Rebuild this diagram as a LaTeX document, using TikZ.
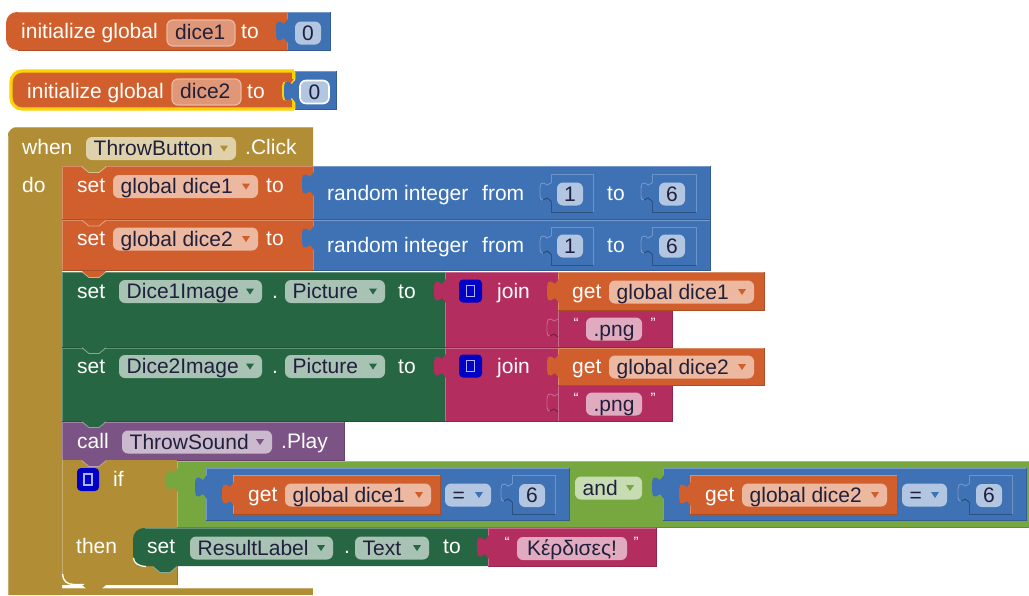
\documentclass[tikz,border=0pt]{standalone}
\usepackage{fontspec}
\setmainfont{Liberation Sans}
\definecolor{cor}{HTML}{D05F2D}
\definecolor{cbl}{HTML}{3F71B5}
\definecolor{col}{HTML}{B18E35}
\definecolor{cgr}{HTML}{266643}
\definecolor{cma}{HTML}{B32D5E}
\definecolor{cpu}{HTML}{7C5385}
\definecolor{clg}{HTML}{76A83F}
\definecolor{for}{HTML}{ECB8A0}
\definecolor{fbl}{HTML}{B2C6E1}
\definecolor{fol}{HTML}{DFD2AA}
\definecolor{fgr}{HTML}{A8C2B4}
\definecolor{fma}{HTML}{E1ABBF}
\definecolor{fpu}{HTML}{CBBACE}
\definecolor{flg}{HTML}{C8DCB3}
\definecolor{ftx}{HTML}{20203C}
\newcount\nc
\tikzset{x=1pt,y=-1pt,
  lab/.style={anchor=base west,inner sep=0pt,text=white,font=\fontsize{21}{24}\selectfont},
  fldt/.style={anchor=base west,inner sep=0pt,text=ftx,font=\fontsize{21}{24}\selectfont},
  qt/.style={anchor=center,inner sep=0pt,text=white,font=\fontsize{15}{15}\selectfont}}
% label: x, baseline, text
\newcommand{\lbl}[3]{\global\advance\nc by 1 \node[lab] (n\the\nc) at (#1,#2) {#3};}
% block: colour x1 y1 x2 y2
\newcommand{\blk}[5]{%
  \fill[#1] (#2,#3) rectangle (#4,#5);
  \draw[#1!82!black,line width=1pt] (#2,#5) -- (#4,#5) -- (#4,#3);
  \draw[#1!72!white,line width=1pt] (#2,#5) -- (#2,#3) -- (#4,#3);}
% field: x1 x2 yc fill arrowcolour text
\newcommand{\fd}[6]{%
  \fill[#4,rounded corners=6pt] (#1,#3-11.5) rectangle (#2,#3+11.5);
  \global\advance\nc by 1
  \node[fldt] (n\the\nc) at (#1+7.5,#3+7) {#6};
  \fill[#5] (#2-16,#3-3) -- (#2-8,#3-3) -- (#2-12,#3+3) -- cycle;}
% field without arrow, centred text
\newcommand{\fc}[5]{%
  \fill[#4,rounded corners=6pt] (#1,#3-11.5) rectangle (#2,#3+11.5);
  \global\advance\nc by 1
  \node[fldt,anchor=base] (n\the\nc) at ({(#1+#2)/2},#3+7) {#5};}
% tab: colour x y
\newcommand{\tabb}[3]{%
  \fill[#1] (#2+1,#3-12) -- (#2-3,#3-7) -- (#2-7,#3-9.5) .. controls (#2-10,#3-9.5) .. (#2-11,#3-4) -- (#2-11,#3+4)
     .. controls (#2-10,#3+9.5) .. (#2-7,#3+9.5) -- (#2-3,#3+7) -- (#2+1,#3+12) -- cycle;}
% empty socket curve: colour x yc
\newcommand{\cshp}[3]{%
  \draw[#1!72!white,line width=.9pt] (#2,#3-9) -- (#2-4,#3-7) -- (#2-7,#3-9) .. controls (#2-10,#3-9) .. (#2-11,#3-4) -- (#2-11,#3+4)
     .. controls (#2-10,#3+8) .. (#2-8,#3+8);
  \draw[#1!65!black,line width=.9pt] (#2-8,#3+8) -- (#2-4,#3+6) -- (#2,#3+9);}
% socket outline: colour x1 y1 x2 y2
\newcommand{\sock}[5]{%
  \draw[#1!76!white,line width=.9pt] (#2,#3+9) -- (#2,#3) -- (#4,#3) -- (#4,#5);
  \draw[#1!72!black,line width=.9pt] (#4,#5) -- (#2,#5) -- (#2,#3+27);
  \cshp{#1}{#2}{#3+18}}
% statement notch: colour x y
\newcommand{\notchh}[3]{%
  \fill[#1] (#2-12,#3) -- (#2+12,#3) -- (#2+5,#3+6) -- (#2-5,#3+6) -- cycle;
  \draw[white!45!#1,line width=.8pt] (#2-12,#3+.8) -- (#2-5,#3+6.5) -- (#2+5,#3+6.5) -- (#2+12,#3+.8);}
% mutator icon: x1 x2 yc
\newcommand{\mutr}[3]{%
  \fill[blue!78!black,rounded corners=4pt] (#1,#3-11.5) rectangle (#2,#3+11.5);
  \draw[white!70!blue,line width=1.1pt] ({(#1+#2)/2-4},#3-5.5) rectangle ({(#1+#2)/2+4},#3+5.5);}
\begin{document}
\begin{tikzpicture}
\useasboundingbox (0,0) rectangle (1029,595);
\fill[white] (0,0) rectangle (1029,595);

% --- initialize dice1
\fill[cor,rounded corners=11pt] (287,12) -- (6,12) -- (6,50) -- (20,50) [sharp corners] -- (287,50) -- cycle;
\draw[cor!82!black,line width=1pt] (18,50) -- (287,50);
\draw[cor!72!white,line width=1pt] (18,12.5) -- (287,12.5);
\blk{cbl}{287}{12}{330}{50}
\tabb{cbl}{287}{31}
\lbl{21}{38.5}{initialize global}
\fill[cor!65!white,rounded corners=6pt] (167,20) rectangle (235,46);
\draw[cor!45!white,line width=1.2pt,rounded corners=6pt] (167,20) rectangle (235,46);
\global\advance\nc by 1 \node[fldt] (n\the\nc) at (175,39) {dice1};
\lbl{241}{38.5}{to}
\fc{295}{321}{33}{fbl}{0}

% --- initialize dice2
\fill[cor,rounded corners=11pt] (294,71) -- (11,71) -- (11,109) -- (25,109) [sharp corners] -- (294,109) -- cycle;
\draw[yellow!70!orange,line width=3.2pt,rounded corners=11pt] (294,71) -- (11,71) -- (11,109) -- (294,109);
\draw[yellow!70!orange,line width=3.2pt] (294,71) -- (294,79);
\draw[yellow!70!orange,line width=3.2pt] (294,101) -- (294,109);
\blk{cbl}{295}{71}{336}{109}
\tabb{yellow!70!orange}{293}{91}
\tabb{cbl}{295}{91}
\lbl{27}{98}{initialize global}
\fill[cor!65!white,rounded corners=6pt] (172,79) rectangle (241,105);
\draw[cor!45!white,line width=1.2pt,rounded corners=6pt] (172,79) rectangle (241,105);
\global\advance\nc by 1 \node[fldt] (n\the\nc) at (180,98) {dice2};
\lbl{247}{98}{to}
\fc{300}{329}{92}{fbl}{0}
\draw[white,line width=1.6pt,rounded corners=6pt] (300,80.5) rectangle (329,103.5);

% --- event block
\fill[col,rounded corners=9pt] (313,127) -- (8,127) -- (8,140) [sharp corners] -- (8,595) -- (62,595) -- (62,166) -- (313,166) -- cycle;
\draw[col!72!white,line width=1pt] (16,127.5) -- (313,127.5);
\draw[col!72!white,line width=1pt] (8.5,136) -- (8.5,595);
\fill[col] (62,588) rectangle (313,595);
\draw[col!72!white,line width=1pt] (62,588.5) -- (313,588.5);
\lbl{22}{154}{when}
\fd{86}{236}{148.5}{fol}{col}{ThrowButton}
\lbl{245}{154}{.Click}
\lbl{22}{192}{do}

% --- set dice1 / dice2
\blk{cor}{62}{166}{313}{219}
\blk{cor}{62}{220}{313}{270}
\blk{cbl}{313}{166}{710}{219}
\blk{cbl}{313}{220}{710}{270}
\notchh{col}{94}{166}
\notchh{cor}{94}{219.5}
\lbl{77}{192}{set}
\fd{113}{258}{186.5}{for}{cor}{global dice1}
\lbl{266}{192}{to}
\tabb{cbl}{313}{184}
\lbl{327}{200}{random integer}
\lbl{482}{200}{from}
\sock{cbl}{551}{174}{593}{212}
\fc{557}{583}{194}{fbl}{1}
\lbl{607}{200}{to}
\sock{cbl}{652}{174}{696}{212}
\fc{659}{685}{194}{fbl}{6}
\lbl{77}{245}{set}
\fd{113}{258}{239}{for}{cor}{global dice2}
\lbl{266}{245}{to}
\tabb{cbl}{313}{238}
\lbl{327}{252}{random integer}
\lbl{482}{252}{from}
\sock{cbl}{551}{227}{593}{265}
\fc{557}{583}{246}{fbl}{1}
\lbl{607}{252}{to}
\sock{cbl}{652}{227}{696}{265}
\fc{659}{685}{246}{fbl}{6}

% --- set image rows
\blk{cgr}{62}{272}{445}{347}
\blk{cgr}{62}{348}{445}{421}
\notchh{cor}{94}{271}
\notchh{cgr}{94}{347}
\blk{cma}{445}{272}{558}{347}
\blk{cma}{445}{348}{558}{421}
\blk{cma}{558}{310}{672}{347}
\blk{cma}{558}{385}{672}{421}
\blk{cor}{558}{272}{764}{310}
\blk{cor}{558}{348}{764}{385}
\lbl{77}{298}{set}
\fd{119}{262}{291.5}{fgr}{cgr}{Dice1Image}
\lbl{272}{298}{.}
\fd{285}{385}{291.5}{fgr}{cgr}{Picture}
\lbl{398}{298}{to}
\tabb{cma}{445}{291}
\mutr{459}{482}{291}
\lbl{497}{298}{join}
\tabb{cor}{558}{291}
\lbl{572}{298}{get}
\fd{609}{754}{292}{for}{cor}{global dice1}
\cshp{cma}{558}{328}
\node[qt] (q1) at (576,323) {“};
\fc{586}{642}{329}{fma}{.png}
\node[qt] (q2) at (653,323) {”};
\lbl{77}{373}{set}
\fd{119}{262}{366.5}{fgr}{cgr}{Dice2Image}
\lbl{272}{373}{.}
\fd{285}{385}{366.5}{fgr}{cgr}{Picture}
\lbl{398}{373}{to}
\tabb{cma}{445}{366}
\mutr{459}{482}{366}
\lbl{497}{373}{join}
\tabb{cor}{558}{366}
\lbl{572}{373}{get}
\fd{609}{754}{367}{for}{cor}{global dice2}
\cshp{cma}{558}{403}
\node[qt] (q3) at (576,398) {“};
\fc{586}{642}{404}{fma}{.png}
\node[qt] (q4) at (653,398) {”};

% --- call
\blk{cpu}{62}{422}{344}{460}
\notchh{cgr}{94}{421}
\lbl{77}{448}{call}
\fd{122}{272}{442}{fpu}{cpu}{ThrowSound}
\lbl{281}{448}{.Play}

% --- if block
\fill[col] (62,460) rectangle (177,585);
\draw[col!72!white,line width=1pt] (62.5,460) -- (62.5,576);
\draw[white,line width=1.4pt] (62.5,574) .. controls (63,581) and (67,584.5) .. (74,584.5) -- (84,584.5);
\draw[col!82!black,line width=.8pt] (177,566) -- (177,585);
\notchh{cpu}{94}{460}
\fill[col] (82,585) -- (106,585) -- (100,590) -- (88,590) -- cycle;
\mutr{77}{99}{479.5}
\lbl{113}{486}{if}
\lbl{76}{553}{then}

% --- and
\fill[clg] (177,461) rectangle (1029,527);
\draw[clg!72!white,line width=1pt] (177,527) -- (177,461) -- (1029,461);
\draw[clg!82!black,line width=1pt] (177,527) -- (1029,527);
\tabb{clg}{177}{480}
\blk{cbl}{206}{468}{569}{520}
\tabb{cbl}{206}{487}
\blk{cor}{233}{475}{440}{514}
\tabb{cor}{233}{494}
\lbl{248}{501}{get}
\fd{285}{431}{495}{for}{cor}{global dice1}
\fd{445}{491}{495}{fbl}{cbl}{=}
\sock{cbl}{512}{475}{555}{514}
\fc{519}{545}{495.5}{fbl}{6}
\fd{575}{642}{488}{flg}{clg}{and}
\blk{cbl}{663}{468}{1026}{520}
\tabb{cbl}{663}{487}
\blk{cor}{690}{475}{897}{514}
\tabb{cor}{690}{494}
\lbl{705}{501}{get}
\fd{742}{887}{495}{for}{cor}{global dice2}
\fd{902}{947}{495}{fbl}{cbl}{=}
\sock{cbl}{969}{475}{1012}{514}
\fc{976}{1002}{495.5}{fbl}{6}

% --- set result
\fill[cgr,rounded corners=11pt] (490,528) -- (133,528) -- (133,566) -- (147,566) [sharp corners] -- (490,566) -- cycle;
\draw[white,line width=1.2pt] (133.5,558) .. controls (134,563) and (138,566) .. (146,566.5);
\draw[cgr!72!white,line width=1pt] (145,528.5) -- (490,528.5);
\notchh{cgr}{165}{566}
\blk{cma}{488}{528}{656}{566}
\tabb{cma}{488}{547}
\lbl{147}{553}{set}
\fd{190}{333}{548}{fgr}{cgr}{ResultLabel}
\lbl{344}{553}{.}
\fd{355}{429}{548}{fgr}{cgr}{Text}
\lbl{443}{553}{to}
\node[qt] (q5) at (507,542) {“};
\fc{517}{627}{548.5}{fma}{Κέρδισες!}
\node[qt] (q6) at (636,542) {”};
\end{tikzpicture}
\end{document}
